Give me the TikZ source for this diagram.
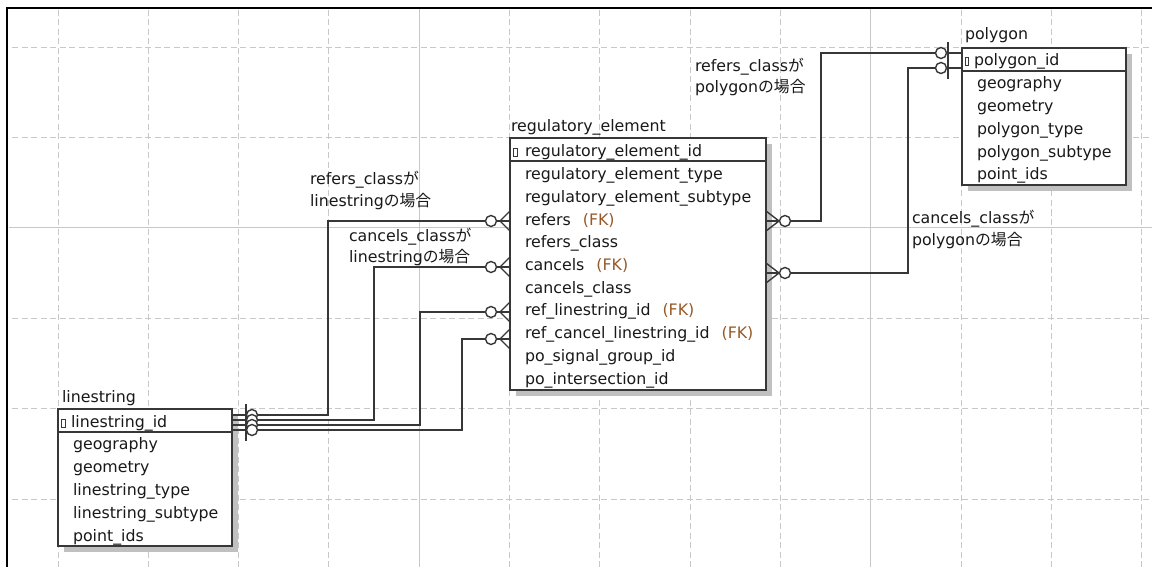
\documentclass[tikz,border=0pt]{standalone}
\usepackage{fontspec}
\setmainfont{DejaVu Sans}
\newfontfamily\cjk{Noto Sans CJK JP}
\usetikzlibrary{shadows,calc}
\definecolor{gridc}{RGB}{200,200,200}
\definecolor{linec}{RGB}{55,55,55}
\definecolor{txt}{RGB}{25,25,25}
\definecolor{fkc}{RGB}{150,90,40}
\definecolor{shadowc}{RGB}{192,192,192}
\begin{document}
\begin{tikzpicture}[x=1pt,y=-1pt,
  every node/.style={font=\fontsize{15.8}{21}\selectfont, text=txt, inner sep=0pt, outer sep=0pt},
  entity/.style={draw=linec, line width=1.4pt, fill=white, anchor=north west,
    drop shadow={shadow xshift=6pt, shadow yshift=-6pt, fill=shadowc, opacity=1}},
  row/.style={anchor=base west},
  conn/.style={draw=linec, line width=1.4pt},
  gridd/.style={draw=gridc, line width=0.9pt, dash pattern=on 6pt off 3.5pt},
  grids/.style={draw=gridc, line width=0.9pt},
  pkicon/.style={draw=linec, line width=0.8pt},
  crowW/.pic={\draw[conn] (0,-10) -- (-10,0) -- (0,10); \draw[conn] (-10,0) -- (0,0);},
  crowE/.pic={\draw[conn] (0,-10) -- (13,0) -- (0,10); \draw[conn] (13,0) -- (0,0);},
  zero/.pic={\draw[conn, fill=white] (0,0) circle (5.5pt);},
  barV/.pic={\draw[conn] (0,-11) -- (0,11);}
]
\useasboundingbox (0,0) rectangle (1152,567);
\fill[white] (0,0) rectangle (1152,567);

% grid
\foreach \k in {0,...,12}{
  \pgfmathsetmacro{\gx}{58+90.3*\k}
  \ifnum\k=4 \draw[grids] (\gx,9) -- (\gx,567);
  \else\ifnum\k=9 \draw[grids] (\gx,9) -- (\gx,567);
  \else \draw[gridd] (\gx,10) -- (\gx,567);
  \fi\fi
}
\foreach \k in {0,...,5}{
  \pgfmathsetmacro{\gy}{47+90.4*\k}
  \ifnum\k=2 \draw[grids] (9,\gy) -- (1152,\gy);
  \else \draw[gridd] (12,\gy) -- (1152,\gy);
  \fi
}

% frame
\draw[black, line width=2.2pt] (7,567) -- (7,8) -- (1152,8);

% entity: regulatory_element
\node[row] (reT) at (511,132) {regulatory\_element};
\node[entity, minimum width=256pt, minimum height=252pt] (re) at (510,138) {};
\draw[conn] (re.north west) ++(0,23) -- ++(256,0);
\draw[pkicon] (513,148) rectangle (517,156);
\node[row] (re1) at (525,157.0) {regulatory\_element\_id};
\node[row] (re2) at (525,179.7) {regulatory\_element\_type};
\node[row] (re3) at (525,202.4) {regulatory\_element\_subtype};
\node[row] (re4) at (525,225.1) {refers\hspace{12pt}\textcolor{fkc}{(FK)}};
\node[row] (re5) at (525,247.8) {refers\_class};
\node[row] (re6) at (525,270.5) {cancels\hspace{12pt}\textcolor{fkc}{(FK)}};
\node[row] (re7) at (525,293.2) {cancels\_class};
\node[row] (re8) at (525,315.9) {ref\_linestring\_id\hspace{12pt}\textcolor{fkc}{(FK)}};
\node[row] (re9) at (525,338.6) {ref\_cancel\_linestring\_id\hspace{12pt}\textcolor{fkc}{(FK)}};
\node[row] (re10) at (525,361.3) {po\_signal\_group\_id};
\node[row] (re11) at (525,384.0) {po\_intersection\_id};

% entity: polygon
\node[row] (polyT) at (965,40) {polygon};
\node[entity, minimum width=164pt, minimum height=137pt] (poly) at (962,48) {};
\draw[conn] (poly.north west) ++(0,23) -- ++(164,0);
\draw[pkicon] (965,57) rectangle (968,65);
\node[row] (poly1) at (974,66.0) {polygon\_id};
\node[row] (poly2) at (977,88.8) {geography};
\node[row] (poly3) at (977,111.6) {geometry};
\node[row] (poly4) at (977,134.4) {polygon\_type};
\node[row] (poly5) at (977,157.2) {polygon\_subtype};
\node[row] (poly6) at (977,180.0) {point\_ids};

% entity: linestring
\node[row] (lsT) at (62,402) {linestring};
\node[entity, minimum width=174pt, minimum height=137pt] (ls) at (58,409) {};
\draw[conn] (ls.north west) ++(0,23) -- ++(174,0);
\draw[pkicon] (61,419) rectangle (65,427);
\node[row] (ls1) at (71,427.0) {linestring\_id};
\node[row] (ls2) at (73,449.8) {geography};
\node[row] (ls3) at (73,472.6) {geometry};
\node[row] (ls4) at (73,495.4) {linestring\_type};
\node[row] (ls5) at (73,518.2) {linestring\_subtype};
\node[row] (ls6) at (73,541.0) {point\_ids};

% labels
\node[row] (lab1a) at (310,185) {refers\_class{\cjk が}};
\node[row] (lab1b) at (310,207) {linestring{\cjk の場合}};
\node[row] (lab2a) at (349,241) {cancels\_class{\cjk が}};
\node[row] (lab2b) at (349,262) {linestring{\cjk の場合}};
\node[row] (lab3a) at (695,72) {refers\_class{\cjk が}};
\node[row] (lab3b) at (695,93) {polygon{\cjk の場合}};
\node[row] (lab4a) at (912,223) {cancels\_class{\cjk が}};
\node[row] (lab4b) at (912,245) {polygon{\cjk の場合}};

% attachment points
\coordinate (reR1) at (re.east |- 0,221);
\coordinate (reR2) at (re.east |- 0,273);
\coordinate (reL1) at (re.west |- 0,221);
\coordinate (reL2) at (re.west |- 0,267);
\coordinate (reL3) at (re.west |- 0,312);
\coordinate (reL4) at (re.west |- 0,339);
\coordinate (polyL1) at (poly.west |- 0,53);
\coordinate (polyL2) at (poly.west |- 0,68);
\coordinate (lsR1) at (ls.east |- 0,415);
\coordinate (lsR2) at (ls.east |- 0,420);
\coordinate (lsR3) at (ls.east |- 0,425);
\coordinate (lsR4) at (ls.east |- 0,430);

% connectors
\draw[conn] (reR1) -- ++(55,0) |- (polyL1);
\draw[conn] (reR2) -- ++(142,0) |- (polyL2);
\draw[conn] (reL1) -- ++(-182,0) |- (lsR1);
\draw[conn] (reL2) -- ++(-136,0) |- (lsR2);
\draw[conn] (reL3) -- ++(-90,0) |- (lsR3);
\draw[conn] (reL4) -- ++(-48,0) |- (lsR4);

% ends at regulatory_element (many, optional)
\foreach \c in {reR1,reR2}{
  \pic at (\c) {crowE};
  \pic at ($(\c)+(19,0)$) {zero};
}
\foreach \c in {reL1,reL2,reL3,reL4}{
  \pic at (\c) {crowW};
  \pic at ($(\c)+(-19,0)$) {zero};
}
% ends at polygon / linestring (one, optional)
\foreach \c in {polyL1,polyL2}{
  \pic at ($(\c)+(-21,0)$) {zero};
  \pic at ($(\c)+(-14,0)$) {barV};
}
\foreach \c in {lsR1,lsR2,lsR3,lsR4}{
  \pic at ($(\c)+(14,0)$) {barV};
  \pic at ($(\c)+(20,0)$) {zero};
}
\end{tikzpicture}
\end{document}
